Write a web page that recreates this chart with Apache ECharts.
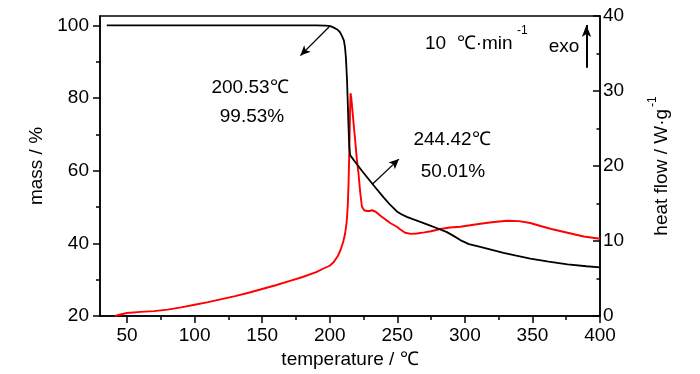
<!DOCTYPE html>
<html>
<head>
<meta charset="utf-8">
<script src="https://cdn.jsdelivr.net/npm/echarts@6/dist/echarts.min.js"></script>
<style>html,body{margin:0;padding:0;background:#fff;}#c{width:700px;height:374px;}</style>
</head>
<body>
<div id="c"></div>
<script>
// TG (mass) curve
var tgTemp = [35, 50, 100, 150, 190, 197, 200.5, 203, 205.5, 207.5, 209.2, 210.5, 211.3, 212, 212.8, 213.5, 214, 214.5, 215.1, 218, 223.8, 232.4, 240, 245, 249.7, 253, 257, 262, 268, 274.4, 280, 286.7, 291, 296.6, 303, 311.4, 320, 328.6, 338, 348.4, 362, 376, 390, 400];
var tgMass = [100, 100, 100, 100, 100, 99.95, 99.8, 99.4, 98.9, 98.2, 97, 95.8, 94, 91, 85, 77, 71, 66.5, 64.3, 62.8, 60.0, 56.0, 52.6, 50.5, 48.8, 48.0, 47.3, 46.6, 45.8, 44.9, 44.1, 43.1, 42.2, 40.9, 39.8, 39.0, 38.2, 37.4, 36.6, 35.8, 35.0, 34.2, 33.7, 33.4];
// DSC (heat flow) curve
var dscTemp = [41, 45, 50, 60, 70, 80, 90, 100, 110, 120, 130, 140, 150, 160, 170, 180, 190, 195, 200, 203, 206, 208, 210, 211.4, 212.5, 213.3, 213.9, 214.5, 215.0, 215.4, 216, 217, 218, 218.8, 220, 221.3, 222.5, 223.8, 225.5, 227.5, 229.5, 231.2, 234, 237.3, 241, 244.7, 249.7, 252.5, 255.8, 260, 264.5, 270, 275, 281.8, 289, 296.6, 304, 311.4, 320, 331.1, 340, 348.4, 356, 364, 376, 388, 400];
var dscHeat = [0, 0.2, 0.4, 0.55, 0.65, 0.85, 1.15, 1.5, 1.85, 2.25, 2.65, 3.1, 3.6, 4.1, 4.65, 5.2, 5.85, 6.3, 6.7, 7.2, 8.0, 8.8, 9.9, 11.0, 12.5, 14.5, 17.5, 22, 27, 29.7, 29, 27, 25, 23.5, 21, 19, 16.6, 14.6, 14.1, 14.0, 14.0, 14.1, 13.9, 13.4, 12.9, 12.4, 11.9, 11.5, 11.1, 10.95, 11.0, 11.15, 11.3, 11.6, 11.8, 11.9, 12.1, 12.3, 12.5, 12.7, 12.65, 12.4, 12.0, 11.6, 11.1, 10.6, 10.3];
// tick labels
var xMajorTicks = [50, 100, 150, 200, 250, 300, 350, 400];
var xMinorTicks = [75, 125, 175, 225, 275, 325, 375];
var massMajorTicks = [20, 40, 60, 80, 100];
var massMinorTicks = [30, 50, 70, 90];
// annotations
var onsetArrow = [[200.0, 99.8], [178.3, 91.7]];
var midArrow = [[231.5, 56.3], [251.2, 63.2]];
var exoArrow = [[390, 33.1], [390, 38.8]];

function zip(a, b) { return a.map(function (v, i) { return [v, b[i]]; }); }

var FONT = '"Liberation Sans", Arial, sans-serif';
var FS = 19;
var black = '#000';

var chart = echarts.init(document.getElementById('c'), null, { renderer: 'canvas' });
var option = {
  animation: false,
  backgroundColor: '#fff',
  grid: { left: 100, right: 100, top: 16, bottom: 58, show: true, borderColor: black, borderWidth: 1.5, backgroundColor: 'transparent' },
  xAxis: [{
    type: 'value', min: 30, max: 400, position: 'bottom',
    name: 'temperature / ℃', nameLocation: 'middle', nameGap: 34,
    nameTextStyle: { fontSize: FS, fontFamily: FONT, color: black },
    axisLine: { show: true, onZero: false, lineStyle: { color: black, width: 1.5 } },
    axisTick: { show: true, inside: false, length: 7, customValues: xMajorTicks, lineStyle: { color: black, width: 1.5 } },
    axisLabel: { show: true, margin: 10, customValues: xMajorTicks, fontSize: FS, fontFamily: FONT, color: black },
    splitLine: { show: false }
  }, {
    type: 'value', min: 30, max: 400, position: 'bottom', offset: 0,
    axisLine: { show: false, onZero: false },
    axisTick: { show: true, inside: false, length: 4, customValues: xMinorTicks, lineStyle: { color: black, width: 1.5 } },
    axisLabel: { show: false },
    splitLine: { show: false }
  }],
  yAxis: [{
    type: 'value', min: 20, max: 102.6, position: 'left',
    name: 'mass / %', nameLocation: 'middle', nameGap: 52,
    nameTextStyle: { fontSize: FS, fontFamily: FONT, color: black },
    axisLine: { show: true, onZero: false, lineStyle: { color: black, width: 1.5 } },
    axisTick: { show: true, inside: false, length: 7, customValues: massMajorTicks, lineStyle: { color: black, width: 1.5 } },
    axisLabel: { show: true, margin: 11, customValues: massMajorTicks, fontSize: FS, fontFamily: FONT, color: black },
    splitLine: { show: false }
  }, {
    type: 'value', min: 0, max: 40, interval: 10, position: 'right',
    name: '{a|heat flow / W·g}{s|-1}', nameLocation: 'middle', nameGap: 47,
    nameTextStyle: { fontSize: FS, fontFamily: FONT, color: black,
      rich: { a: { fontSize: FS, fontFamily: FONT, color: black, lineHeight: 24, verticalAlign: 'bottom' },
              s: { fontSize: 12, fontFamily: FONT, color: black, lineHeight: 24, verticalAlign: 'top', padding: [0, 0, 0, 2] } } },
    axisLine: { show: true, onZero: false, lineStyle: { color: black, width: 1.5 } },
    axisTick: { show: true, inside: true, length: 7, lineStyle: { color: black, width: 1.5 } },
    minorTick: { show: true, splitNumber: 2, length: 3.5, lineStyle: { color: black, width: 1.5 } },
    axisLabel: { show: true, margin: 3, fontSize: FS, fontFamily: FONT, color: black },
    splitLine: { show: false }, minorSplitLine: { show: false }
  }, {
    type: 'value', min: 20, max: 102.6, position: 'left', offset: 0,
    axisLine: { show: false, onZero: false },
    axisTick: { show: true, inside: false, length: 4, customValues: massMinorTicks, lineStyle: { color: black, width: 1.5 } },
    axisLabel: { show: false },
    splitLine: { show: false }
  }],
  series: [{
    type: 'line', name: 'mass', xAxisIndex: 0, yAxisIndex: 0,
    data: zip(tgTemp, tgMass), showSymbol: false, symbol: 'none', smooth: false,
    lineStyle: { color: black, width: 1.8 }, z: 3,
    markLine: {
      silent: true, animation: false, symbol: ['none', 'arrow'], symbolSize: [7, 10],
      label: { show: false },
      lineStyle: { color: black, width: 1.3, type: 'solid' },
      data: [
        [{ coord: onsetArrow[0] }, { coord: onsetArrow[1] }],
        [{ coord: midArrow[0] }, { coord: midArrow[1] }]
      ]
    }
  }, {
    type: 'line', name: 'heat', xAxisIndex: 0, yAxisIndex: 1,
    data: zip(dscTemp, dscHeat), showSymbol: false, symbol: 'none', smooth: false,
    lineStyle: { color: '#ff0000', width: 1.9 }, z: 2,
    markLine: {
      silent: true, animation: false, symbol: ['none', 'arrow'], symbolSize: [7, 12],
      label: { show: false },
      lineStyle: { color: black, width: 2, type: 'solid' },
      data: [[{ coord: exoArrow[0] }, { coord: exoArrow[1] }]]
    }
  }],
  graphic: [
    { type: 'text', x: 250, y: 88, style: { text: '200.53℃', fontSize: FS, fontFamily: FONT, fill: black, align: 'center', verticalAlign: 'middle' } },
    { type: 'text', x: 252, y: 117, style: { text: '99.53%', fontSize: FS, fontFamily: FONT, fill: black, align: 'center', verticalAlign: 'middle' } },
    { type: 'text', x: 452, y: 140, style: { text: '244.42℃', fontSize: FS, fontFamily: FONT, fill: black, align: 'center', verticalAlign: 'middle' } },
    { type: 'text', x: 453, y: 172, style: { text: '50.01%', fontSize: FS, fontFamily: FONT, fill: black, align: 'center', verticalAlign: 'middle' } },
    { type: 'text', x: 425, y: 44, style: { text: '10  ℃·min', fontSize: FS, fontFamily: FONT, fill: black, align: 'left', verticalAlign: 'middle' } },
    { type: 'text', x: 517, y: 31, style: { text: '-1', fontSize: 12, fontFamily: FONT, fill: black, align: 'left', verticalAlign: 'middle' } },
    { type: 'text', x: 564, y: 47, style: { text: 'exo', fontSize: FS, fontFamily: FONT, fill: black, align: 'center', verticalAlign: 'middle' } }
  ]
};
chart.setOption(option);
</script>
</body>
</html>
